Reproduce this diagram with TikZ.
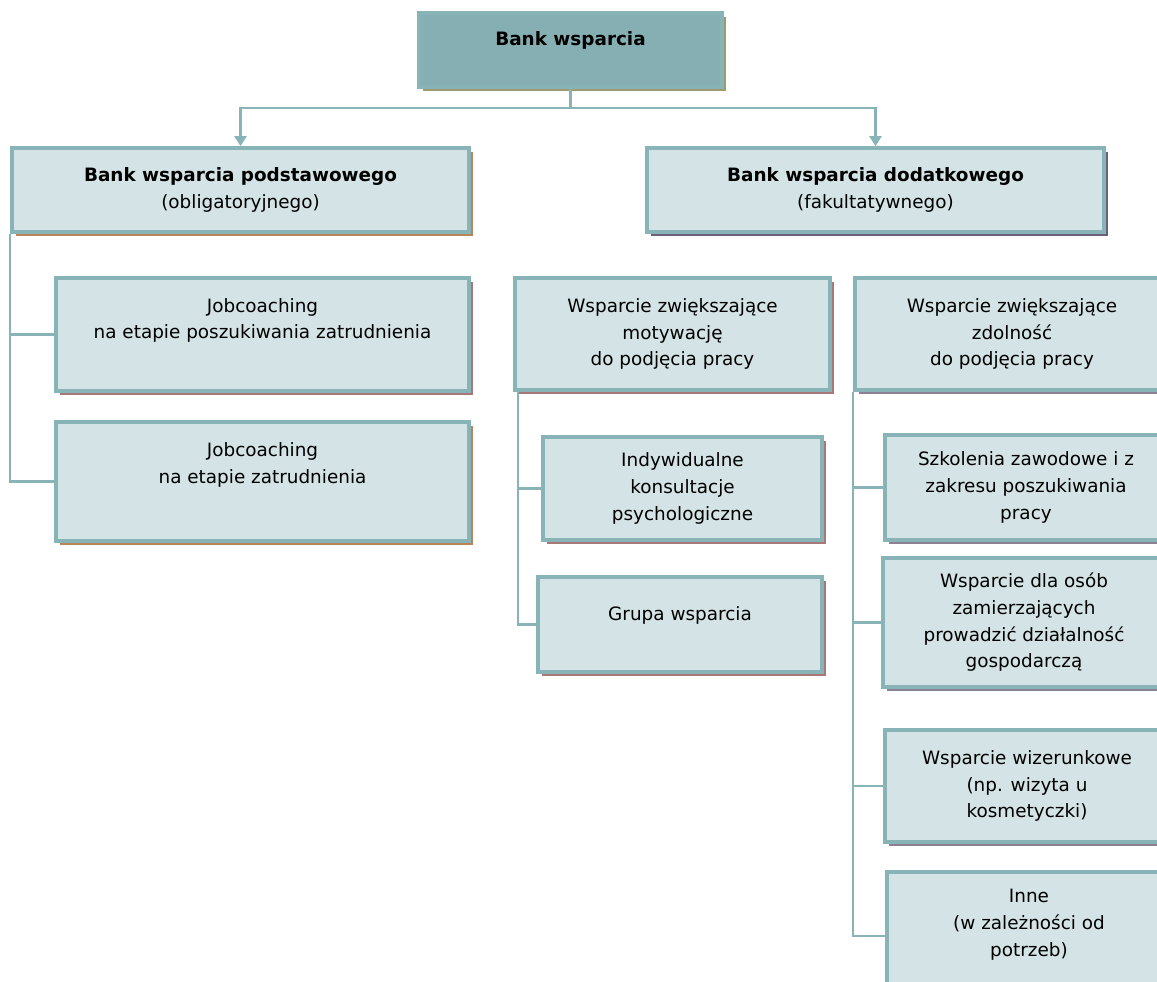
\documentclass[tikz,border=0pt]{standalone}
\usepackage{fontspec}
\setmainfont{DejaVu Sans}
\usetikzlibrary{arrows.meta,shadows,positioning}
\definecolor{bankdark}{RGB}{133,175,179}
\definecolor{banklight}{RGB}{212,227,229}
\definecolor{bankline}{RGB}{136,180,184}
\definecolor{shadeolive}{RGB}{156,154,110}
\definecolor{shadebrown}{RGB}{184,132,90}
\definecolor{shadepurple}{RGB}{108,96,120}
\definecolor{shaderose}{RGB}{168,120,120}
\definecolor{shadegrey}{RGB}{140,128,148}

\begin{document}
\begin{tikzpicture}[x=0.75pt,y=-0.75pt,
    box/.style={draw=bankline, line width=2.8pt, fill=banklight, align=center,
        font=\fontsize{13.8}{20}\selectfont, inner sep=0pt},
    wh/.style 2 args={minimum width=#1*0.75pt, minimum height=#2*0.75pt},
    shade/.style={drop shadow={shadow xshift=3pt, shadow yshift=-3pt, fill=#1, opacity=1}},
    textup/.style={text depth=#1},
    link/.style={draw=bankline, line width=1.9pt},
    tip/.style={-{Triangle[width=9pt,length=7.5pt]}}]
    \useasboundingbox (0,0) rectangle (1157,982);
    \clip (0,0) rectangle (1157,982);
    % top level
    \node[box, fill=bankdark, shade=shadeolive, wh={303}{74}, textup=17pt, font=\fontsize{13.8}{20}\selectfont\bfseries] (bank) at (570.5,50) {Bank wsparcia};
    \node[box, shade=shadebrown, wh={457}{84}] (podst) at (240.5,190) {\textbf{Bank wsparcia podstawowego}\\(obligatoryjnego)};
    \node[box, shade=shadepurple, wh={457}{84}] (dodat) at (875.5,190) {\textbf{Bank wsparcia dodatkowego}\\(fakultatywnego)};
    % left column
    \node[box, shade=shaderose, wh={413}{113}, textup=24pt] (jobA) at (262.5,334.5) {Jobcoaching\\na etapie poszukiwania zatrudnienia};
    \node[box, shade=shadebrown, wh={413}{119}, textup=28pt] (jobB) at (262.5,481.5) {Jobcoaching\\na etapie zatrudnienia};
    % middle column
    \node[box, shade=shaderose, wh={315}{112}] (motyw) at (672.5,334) {Wsparcie zwiększające\\motywację\\do podjęcia pracy};
    \node[box, shade=shaderose, wh={279}{103}] (konsul) at (682.5,488.5) {Indywidualne\\konsultacje\\psychologiczne};
    \node[box, shade=shaderose, wh={284}{95}, textup=17pt] (grupa) at (680,624.5) {Grupa wsparcia};
    % right column
    \node[box, shade=shadegrey, wh={314}{112}] (zdoln) at (1012,334) {Wsparcie zwiększające\\zdolność\\do podjęcia pracy};
    \node[box, shade=shadegrey, wh={282}{105}] (szkol) at (1026,487.5) {Szkolenia zawodowe i z\\zakresu poszukiwania\\pracy};
    \node[box, shade=shadegrey, wh={282}{129}] (dzial) at (1024,622.5) {Wsparcie dla osób\\zamierzających\\prowadzić działalność\\gospodarczą};
    \node[box, shade=shadegrey, wh={284}{112}] (wizer) at (1027,786) {Wsparcie wizerunkowe\\(np. wizyta u\\kosmetyczki)};
    \node[box, shade=shadegrey, wh={284}{128}, textup=20pt] (inne) at (1029,936) {Inne\\(w zależności od\\potrzeb)};
    % connectors
    \coordinate (split) at (bank.south |- 0,108);
    \draw[link] (bank.south) -- (split);
    \draw[link, tip] (split) -| (podst.north);
    \draw[link, tip] (split) -| (dodat.north);
    \draw[link] (podst.south west) |- (jobA.west);
    \draw[link] (podst.south west) |- (jobB.west);
    \draw[link] ([xshift=3.75pt]motyw.south west) |- (konsul.west);
    \draw[link] ([xshift=3.75pt]motyw.south west) |- (grupa.west);
    \foreach \leaf in {szkol,dzial,wizer,inne}
        \draw[link] (zdoln.south west) |- (\leaf.west);
\end{tikzpicture}
\end{document}
